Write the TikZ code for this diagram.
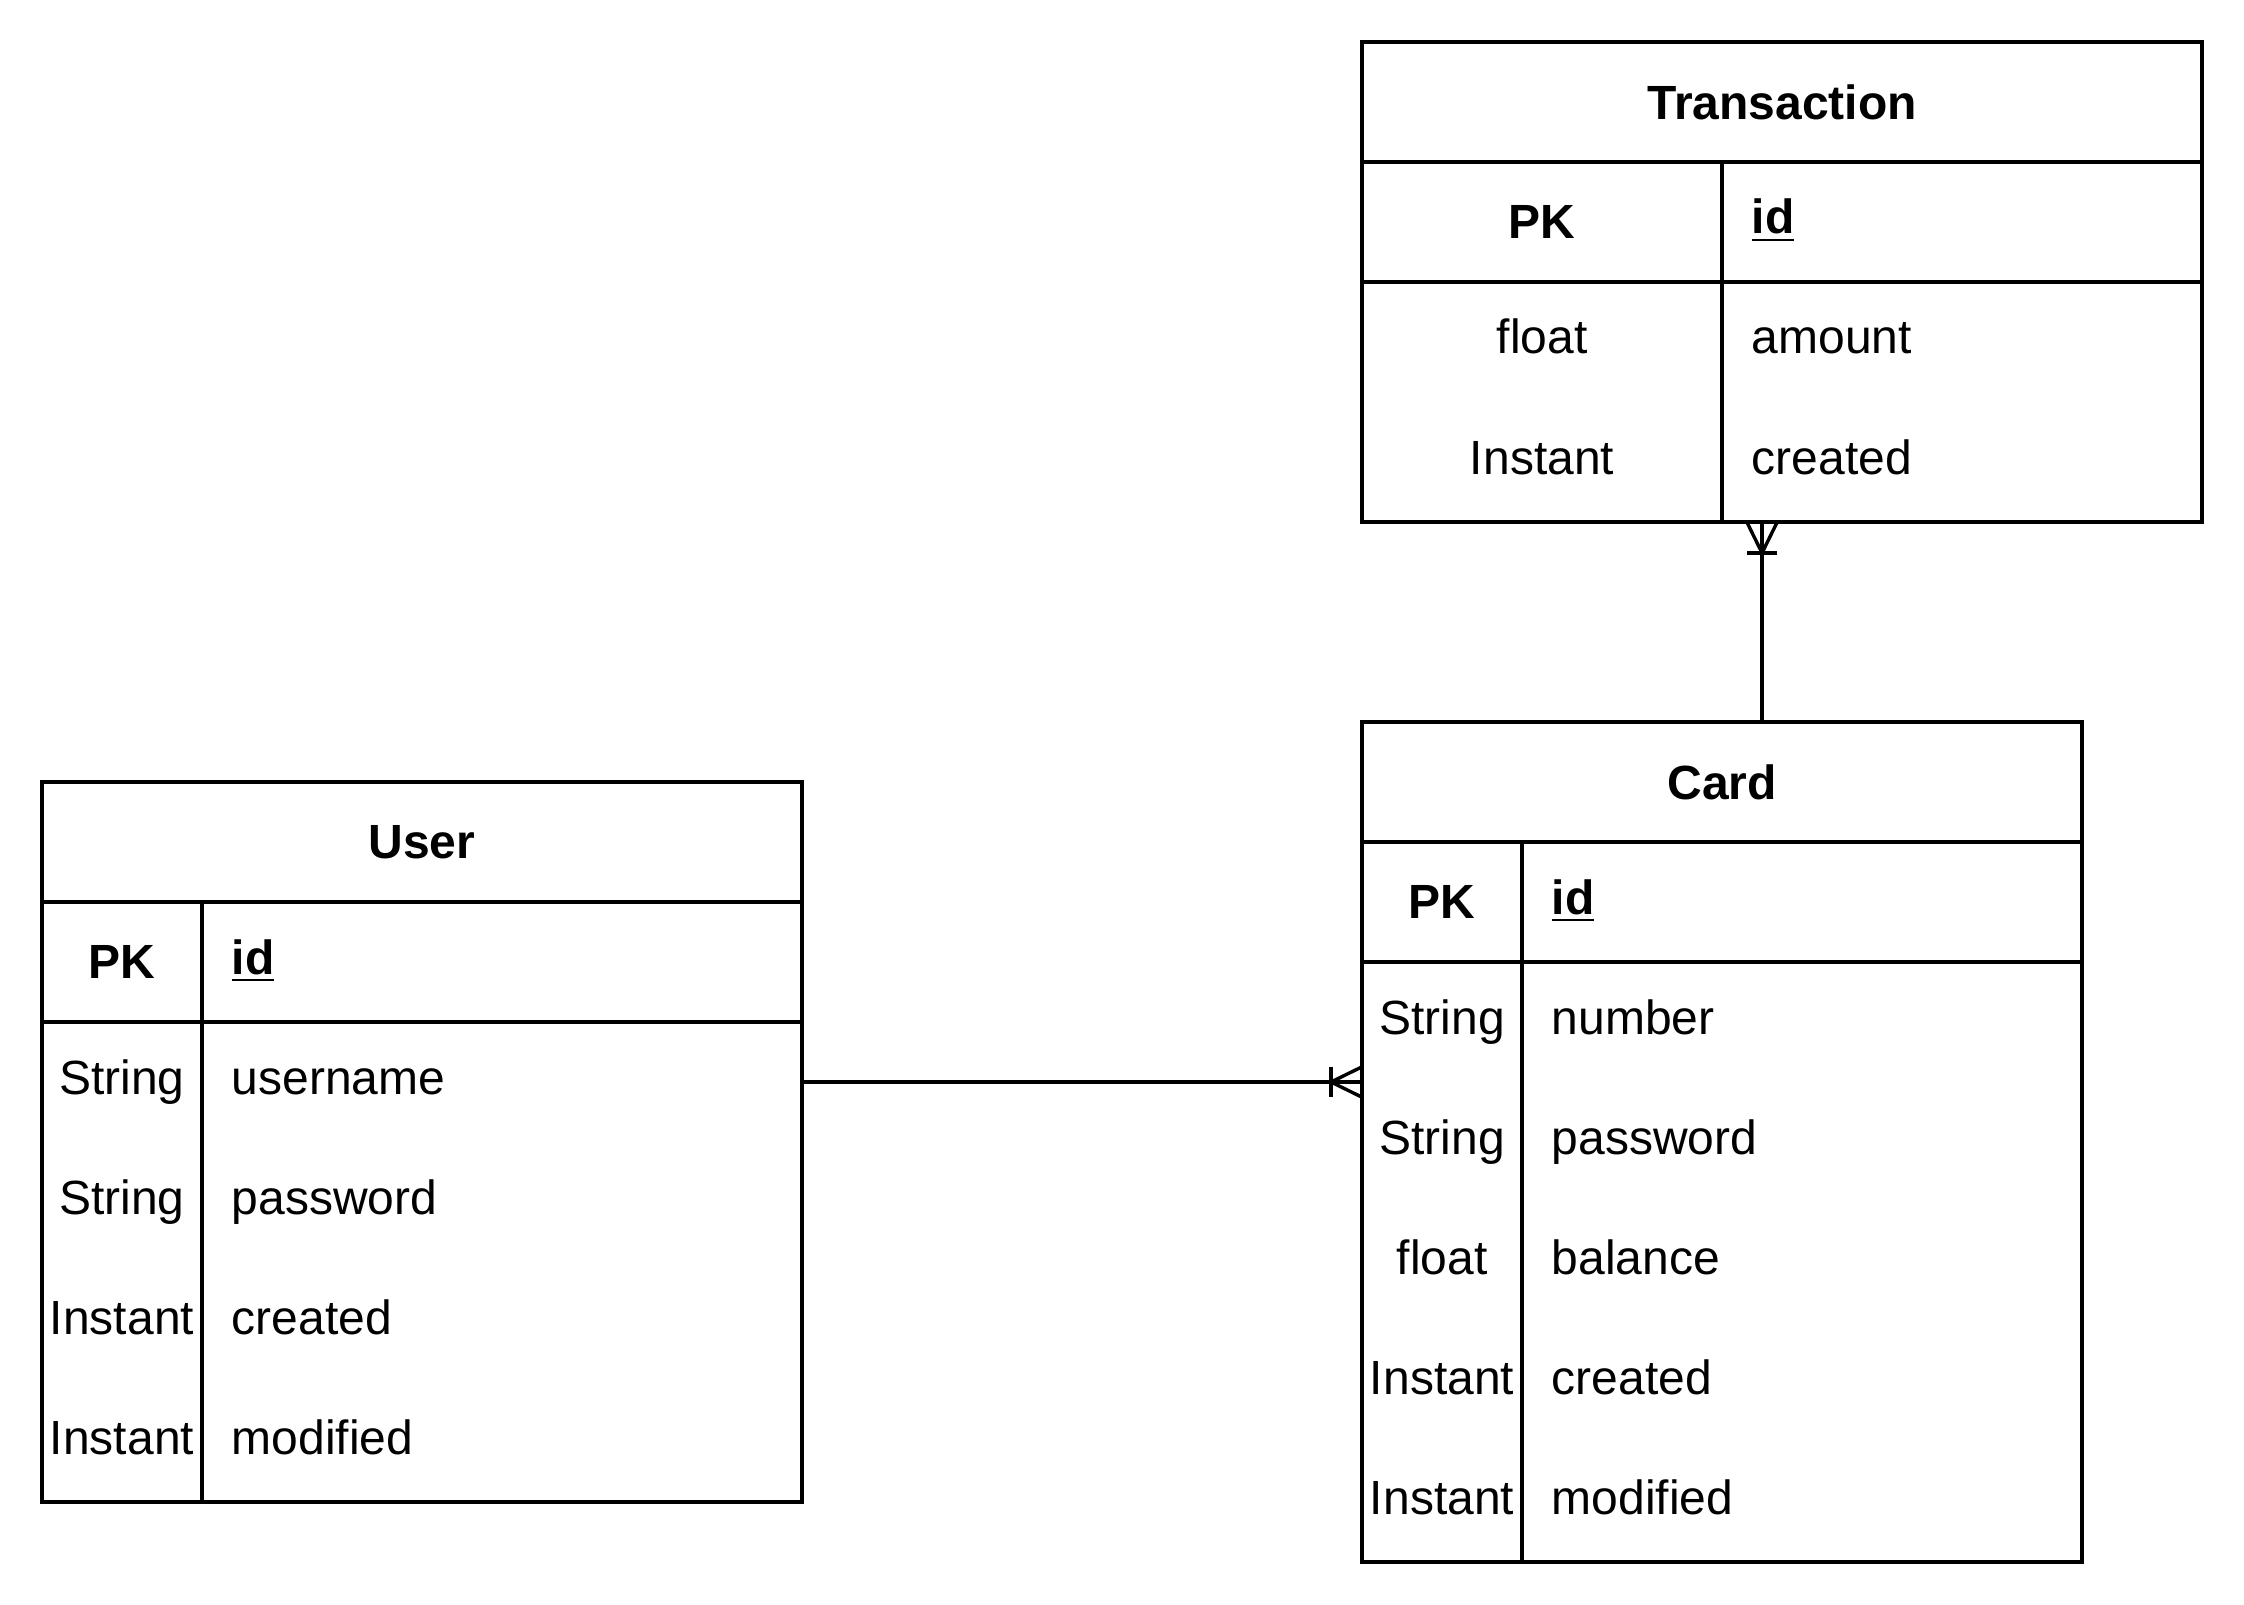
\documentclass[tikz,border=0pt]{standalone}
\usepackage{fontspec}
\setmainfont{Liberation Sans}
\usetikzlibrary{positioning, calc}

\newcommand{\tblfont}{\fontsize{12}{14}\selectfont}
% crow's foot (one or many) at #1, turned by #2
\newcommand{\manyend}[2]{%
  \begin{scope}[shift={(#1)}, rotate=#2]
    \draw (0,3.8) -- (-7.75,0) -- (0,-3.8);
    \draw (-7.75,3.8) -- (-7.75,-3.8);
  \end{scope}}

\begin{document}
\begin{tikzpicture}[x=1pt, y=1pt, line width=0.85pt,
  cell/.style={draw, rectangle, inner sep=0pt, outer sep=0pt, minimum height=30pt, anchor=north west},
  head/.style={cell, font=\tblfont\bfseries},
  txt/.style={inner sep=0pt, text height=9pt, text depth=3pt, font=\tblfont},
  field/.style={txt, anchor=west},
  idfield/.style={field, font=\tblfont\bfseries}]

  \useasboundingbox (-0.5,0.5) rectangle (560.5,-400.5);

  % User
  \node[head, minimum width=190pt] (user) at (10,-195) {User};
  \node[head, minimum width=40pt] (user-pk) at (user.south west) {PK};
  \node[cell, minimum width=150pt] (user-id) at (user-pk.north east) {};
  \node[idfield] (user-idtxt) at ($(user-id.west)+(7,0)$) {\underline{id}};
  \node[cell, minimum width=40pt, minimum height=120pt] (user-keys) at (user-pk.south west) {};
  \node[cell, minimum width=150pt, minimum height=120pt] (user-names) at (user-keys.north east) {};
  \foreach \t/\f [count=\i] in {String/username, String/password, Instant/created, Instant/modified} {
    \node[txt] (user-k\i) at ($(user-keys.north)+(0,15-30*\i)$) {\t};
    \node[field] (user-f\i) at ($(user-names.north west)+(7,15-30*\i)$) {\f};
  }

  % Card
  \node[head, minimum width=180pt] (card) at (340,-180) {Card};
  \node[head, minimum width=40pt] (card-pk) at (card.south west) {PK};
  \node[cell, minimum width=140pt] (card-id) at (card-pk.north east) {};
  \node[idfield] (card-idtxt) at ($(card-id.west)+(7,0)$) {\underline{id}};
  \node[cell, minimum width=40pt, minimum height=150pt] (card-keys) at (card-pk.south west) {};
  \node[cell, minimum width=140pt, minimum height=150pt] (card-names) at (card-keys.north east) {};
  \foreach \t/\f [count=\i] in {String/number, String/password, float/balance, Instant/created, Instant/modified} {
    \node[txt] (card-k\i) at ($(card-keys.north)+(0,15-30*\i)$) {\t};
    \node[field] (card-f\i) at ($(card-names.north west)+(7,15-30*\i)$) {\f};
  }

  % Transaction
  \node[head, minimum width=210pt] (trans) at (340,-10) {Transaction};
  \node[head, minimum width=90pt] (trans-pk) at (trans.south west) {PK};
  \node[cell, minimum width=120pt] (trans-id) at (trans-pk.north east) {};
  \node[idfield] (trans-idtxt) at ($(trans-id.west)+(7,0)$) {\underline{id}};
  \node[cell, minimum width=90pt, minimum height=60pt] (trans-keys) at (trans-pk.south west) {};
  \node[cell, minimum width=120pt, minimum height=60pt] (trans-names) at (trans-keys.north east) {};
  \foreach \t/\f [count=\i] in {float/amount, Instant/created} {
    \node[txt] (trans-k\i) at ($(trans-keys.north)+(0,15-30*\i)$) {\t};
    \node[field] (trans-f\i) at ($(trans-names.north west)+(7,15-30*\i)$) {\f};
  }

  % relations
  \coordinate (card-hit) at ($(card-keys.north west)+(0,-30)$);
  \coordinate (trans-hit) at ($(trans-names.south west)+(10,0)$);
  \draw (user-k1 -| user-names.east) -- (card-hit);
  \draw (trans-hit |- card.north) -- (trans-hit);
  \manyend{card-hit}{0}
  \manyend{trans-hit}{90}
\end{tikzpicture}
\end{document}
